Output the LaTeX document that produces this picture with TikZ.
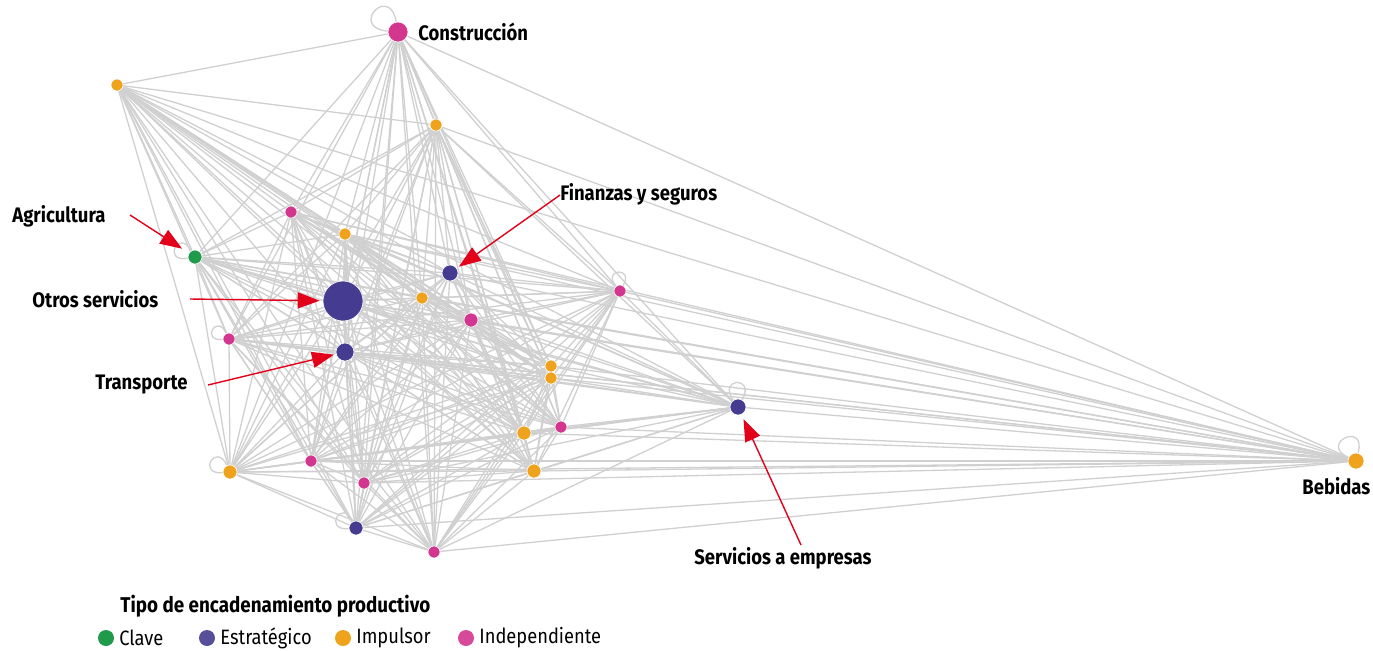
\documentclass[tikz,border=0pt]{standalone}
\usepackage{fontspec}
\setmainfont{Fira Sans}[FakeStretch=0.88]
\usetikzlibrary{arrows.meta,backgrounds}
\definecolor{cClave}{HTML}{1E9A4A}
\definecolor{cEstr}{HTML}{453B90}
\definecolor{cImp}{HTML}{EFA21C}
\definecolor{cInd}{HTML}{D2368F}
\definecolor{edgegray}{HTML}{D0D0D0}
\definecolor{arrowred}{HTML}{E2001A}
\begin{document}
\begin{tikzpicture}[x=0.5pt,y=-0.5pt,
  vnode/.style={circle,inner sep=0pt,draw=white,line width=0.3pt},
  edgeline/.style={draw=edgegray,line width=0.65pt},
  selfloop/.style={draw=edgegray,line width=0.65pt,looseness=8,min distance=#1},
  lbl/.style={anchor=west,inner sep=0pt,font=\fontsize{10.5}{12}\selectfont\bfseries},
  legtitle/.style={anchor=west,inner sep=0pt,font=\fontsize{10.7}{12}\selectfont\bfseries},
  legitem/.style={anchor=west,inner sep=0pt,font=\fontsize{10.4}{12}\selectfont},
  legdot/.style={circle,inner sep=0pt,minimum size=8pt},
  redarrow/.style={draw=arrowred,line width=0.7pt,-{Triangle[length=11pt,width=8pt]}}]
\useasboundingbox (0,0) rectangle (1373,650);
% vertices
\foreach \n/\x/\y/\r/\c in {
  n1/398/32/10/cInd, n2/117/85/6/cImp, n3/436/125/6/cImp, n4/291/212/6/cInd,
  n5/345/234/6/cImp, n6/195/257/7/cClave, n7/450/273/8/cEstr, n8/343/301/20/cEstr,
  n9/422/298/6/cImp, n10/620/291/6/cInd, n11/471/320/7/cInd, n12/229/339/6/cInd,
  n13/345/352/9/cEstr, n14/551/366/6/cImp, n15/551/378/6/cImp, n16/738/407/8/cEstr,
  n17/561/427/6/cInd, n18/524/433/7/cImp, n19/1356/461/8/cImp, n20/311/461/6/cInd,
  n21/230/472/7/cImp, n22/534/471/7/cImp, n23/364/483/6/cInd, n24/356/528/7/cEstr,
  n25/434/552/6/cInd}
  \node[vnode,fill=\c,minimum size=\r pt] (\n) at (\x,\y) {};
% edges
\begin{scope}[on background layer]
\foreach \i in {1,...,25}{
  \foreach \j in {1,...,25}{
    \ifnum\j>\i \draw[edgeline] (n\i) -- (n\j);\fi
  }
}
\draw[selfloop=11pt] (n1) to[out=175,in=100] (n1);
\draw[selfloop=7pt] (n6) to[out=190,in=120] (n6);
\draw[selfloop=6pt] (n10) to[out=130,in=60] (n10);
\draw[selfloop=7pt] (n12) to[out=185,in=115] (n12);
\draw[selfloop=6pt] (n16) to[out=125,in=60] (n16);
\draw[selfloop=7pt] (n19) to[out=155,in=75] (n19);
\draw[selfloop=7pt] (n21) to[out=185,in=115] (n21);
\draw[selfloop=7pt] (n24) to[out=185,in=115] (n24);
\end{scope}
% labels
\node[lbl] (lcons) at (418,32) {Construcción};
\node[lbl] (lagri) at (12,216) {Agricultura};
\node[lbl] (lotros) at (32,299) {Otros servicios};
\node[lbl] (ltrans) at (95,385) {Transporte};
\node[lbl] (lfin) at (560,194) {Finanzas y seguros};
\node[lbl] (lserv) at (694,558) {Servicios a empresas};
\node[lbl] (lbeb) at (1302,486) {Bebidas};
% red arrows
\coordinate (aagri) at (130,215);
\coordinate (aotros) at (190,299);
\coordinate (atrans) at (208,385);
\coordinate (afin) at (560,195);
\coordinate (aserv) at (801,545);
\draw[redarrow,shorten >=4pt] (aagri) -- (n6);
\draw[redarrow,shorten >=1.5pt] (aotros) -- (n8);
\draw[redarrow,shorten >=1pt] (atrans) -- (n13);
\draw[redarrow,shorten >=1.3pt] (afin) -- (n7);
\draw[redarrow,shorten >=2.5pt] (aserv) -- (n16);
% legend
\node[legtitle] (ltitle) at (120,606) {Tipo de encadenamiento productivo};
\node[legdot,fill=cClave] (d1) at (106,638) {};
\node[legitem] (t1) at (119,638) {Clave};
\node[legdot,fill=cEstr!90!white] (d2) at (207,638) {};
\node[legitem] (t2) at (220,638) {Estratégico};
\node[legdot,fill=cImp] (d3) at (343,638) {};
\node[legitem] (t3) at (356,638) {Impulsor};
\node[legdot,fill=cInd!90!white] (d4) at (466,638) {};
\node[legitem] (t4) at (479,638) {Independiente};
\end{tikzpicture}
\end{document}
